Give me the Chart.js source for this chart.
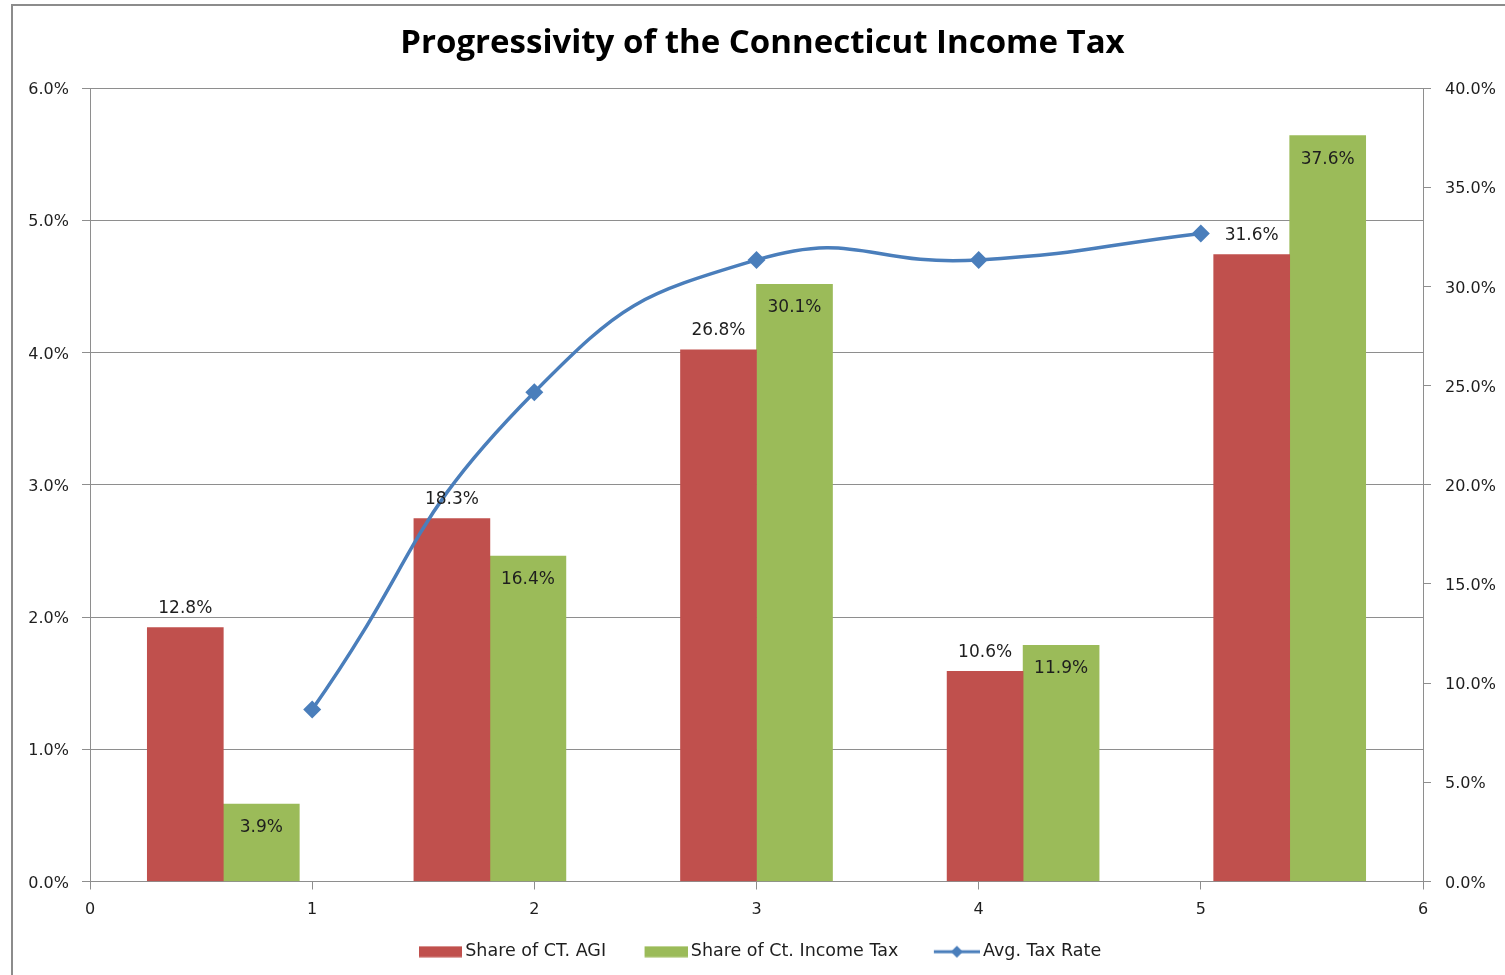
<!DOCTYPE html>
<html>
<head>
<meta charset="utf-8">
<title>Progressivity of the Connecticut Income Tax</title>
<script src="https://cdn.jsdelivr.net/npm/chart.js@4.4.1/dist/chart.umd.min.js"></script>
<style>
  html, body { margin: 0; padding: 0; background: #ffffff; overflow: hidden; }
  #frame { position: absolute; left: 11px; top: 4px; width: 1600px; height: 1100px;
           border: 2px solid #8c8c8c; box-sizing: border-box; }
  #chart { position: absolute; left: 0; top: 0; }
</style>
</head>
<body>
<div id="frame"></div>
<canvas id="chart" width="1505" height="975"></canvas>
<script>
// Income groups (bars) and the share each holds, in percent
const groups = ['1', '2', '3', '4', '5'];
const agiShare = [12.8, 18.3, 26.8, 10.6, 31.6];
const taxShare = [3.9, 16.4, 30.1, 11.9, 37.6];

// Average effective tax rate per group, in percent (secondary x positions 1..5)
const rateX = [1, 2, 3, 4, 5];
const avgRate = [1.3, 3.7, 4.7, 4.7, 4.9];

// Axis ranges and tick steps
const rateAxis = { min: 0, max: 6, step: 1 };
const shareAxis = { min: 0, max: 40, step: 5 };
const posAxis = { min: 0, max: 6, step: 1 };

const seriesNames = ['Share of CT. AGI', 'Share of Ct. Income Tax', 'Avg. Tax Rate'];

const RED = '#C0504D';
const GREEN = '#9BBB59';
const BLUE = '#4A7EBB';
const GRID = '#8e8e8e';
const TEXT = '#1e1e1e';
const FONT = '"DejaVu Sans", Verdana, sans-serif';

const pct = v => Number(v).toFixed(1) + '%';

// Legend swatches on small canvases, so the line entry shows a line with a diamond.
// Each image is wider than its slot and keeps its drawing at the right end,
// which leaves a wide gap before each entry and a narrow one before its text.
const SLOT = 66;
const IMG_W = SLOT + 11;
function boxSwatch(color) {
  const c = document.createElement('canvas');
  c.width = IMG_W; c.height = 12;
  const g = c.getContext('2d');
  g.fillStyle = color;
  g.fillRect(IMG_W - 43, 0.5, 43, 11);
  return c;
}
function lineSwatch(color) {
  const c = document.createElement('canvas');
  c.width = IMG_W; c.height = 14;
  const g = c.getContext('2d');
  g.strokeStyle = color; g.lineWidth = 3;
  g.beginPath(); g.moveTo(IMG_W - 46, 7); g.lineTo(IMG_W, 7); g.stroke();
  const cx = IMG_W - 23, cy = 7, r = 6;
  g.fillStyle = color;
  g.beginPath(); g.moveTo(cx, cy - r); g.lineTo(cx + r, cy); g.lineTo(cx, cy + r); g.lineTo(cx - r, cy); g.closePath(); g.fill();
  return c;
}

// Dataset indices: 0 = rate line, 1 = AGI bars, 2 = tax bars
const LINE_DS = 0, AGI_DS = 1, TAX_DS = 2;
const legendOrder = [AGI_DS, TAX_DS, LINE_DS];
const swatchFor = { [AGI_DS]: boxSwatch(RED), [TAX_DS]: boxSwatch(GREEN), [LINE_DS]: lineSwatch(BLUE) };

// Value labels on the bars: above the AGI bars, just inside the top of the tax bars
const barValueLabels = {
  id: 'barValueLabels',
  afterDatasetsDraw(chart) {
    const ctx = chart.ctx;
    ctx.save();
    ctx.font = '17px ' + FONT;
    ctx.fillStyle = TEXT;
    ctx.textAlign = 'center';
    ctx.textBaseline = 'middle';
    [AGI_DS, TAX_DS].forEach(di => {
      const meta = chart.getDatasetMeta(di);
      const values = chart.data.datasets[di].data;
      meta.data.forEach((bar, i) => {
        const y = di === AGI_DS ? bar.y - 19 : bar.y + 23.5;
        ctx.fillText(pct(values[i]), bar.x, y);
      });
    });
    ctx.restore();
  }
};

const tickFont = { family: FONT, size: 16 };

new Chart(document.getElementById('chart'), {
  type: 'line',
  data: {
    labels: groups,
    datasets: [
      {
        type: 'line', label: seriesNames[2],
        data: rateX.map((x, i) => ({ x: x, y: avgRate[i] })),
        xAxisID: 'x', yAxisID: 'y',
        borderColor: BLUE, backgroundColor: BLUE, borderWidth: 3.5,
        pointStyle: 'rectRot', pointRadius: 9, pointHoverRadius: 9,
        pointBackgroundColor: BLUE, pointBorderColor: BLUE, pointBorderWidth: 0,
        tension: 0.5, fill: false, order: 1
      },
      {
        type: 'bar', label: seriesNames[0], data: agiShare,
        xAxisID: 'xBar', yAxisID: 'y1',
        backgroundColor: RED, borderWidth: 0,
        barThickness: 76, order: 2
      },
      {
        type: 'bar', label: seriesNames[1], data: taxShare,
        xAxisID: 'xBar', yAxisID: 'y1',
        backgroundColor: GREEN, borderWidth: 0,
        barThickness: 76, order: 2
      }
    ]
  },
  options: {
    responsive: false,
    animation: false,
    layout: { padding: { left: 20, right: 0, top: 0, bottom: 4.5 } },
    plugins: {
      title: {
        display: true,
        text: 'Progressivity of the Connecticut Income Tax',
        color: '#000000',
        font: { family: '"Open Sans", sans-serif', weight: 'bold', size: 33, lineHeight: 1.2 },
        padding: { top: 24.2, bottom: 24.2 }
      },
      legend: {
        display: true,
        position: 'bottom',
        labels: {
          usePointStyle: true,
          pointStyleWidth: SLOT,
          padding: 10,
          color: TEXT,
          font: { family: FONT, size: 17.5 },
          generateLabels: chart => legendOrder.map((di, k) => ({
            // the last entry carries trailing spaces so the row sits centred like its neighbours
            text: k === legendOrder.length - 1 ? chart.data.datasets[di].label + '      ' : chart.data.datasets[di].label,
            pointStyle: swatchFor[di],
            fillStyle: 'rgba(0,0,0,0)',
            strokeStyle: 'rgba(0,0,0,0)',
            lineWidth: 0,
            hidden: false,
            datasetIndex: di,
            fontColor: TEXT
          }))
        }
      },
      tooltip: { enabled: false }
    },
    scales: {
      x: {
        type: 'linear', position: 'bottom',
        min: posAxis.min, max: posAxis.max, offset: false,
        ticks: { stepSize: posAxis.step, padding: 11, color: TEXT, font: tickFont },
        grid: { drawOnChartArea: false, drawTicks: true, tickLength: 8, color: GRID, offset: false },
        border: { display: true, color: GRID, width: 1 },
        afterFit: s => { s.height = 51.5; }
      },
      xBar: {
        type: 'category', labels: groups, offset: true, display: false,
        grid: { display: false, offset: true }
      },
      y: {
        type: 'linear', position: 'left',
        min: rateAxis.min, max: rateAxis.max,
        ticks: { stepSize: rateAxis.step, padding: 13, labelOffset: 2, color: TEXT, font: tickFont, callback: v => pct(v) },
        grid: { color: GRID, tickLength: 8, drawTicks: true },
        border: { display: true, color: GRID, width: 1 },
        afterFit: s => { s.width = 70; }
      },
      y1: {
        type: 'linear', position: 'right',
        min: shareAxis.min, max: shareAxis.max,
        ticks: { stepSize: shareAxis.step, padding: 14, labelOffset: 2, color: TEXT, font: tickFont, callback: v => pct(v) },
        grid: { drawOnChartArea: false, tickLength: 8, drawTicks: true, color: GRID },
        border: { display: true, color: GRID, width: 1 },
        afterFit: s => { s.width = 82; }
      }
    }
  },
  plugins: [barValueLabels]
});
</script>
</body>
</html>
